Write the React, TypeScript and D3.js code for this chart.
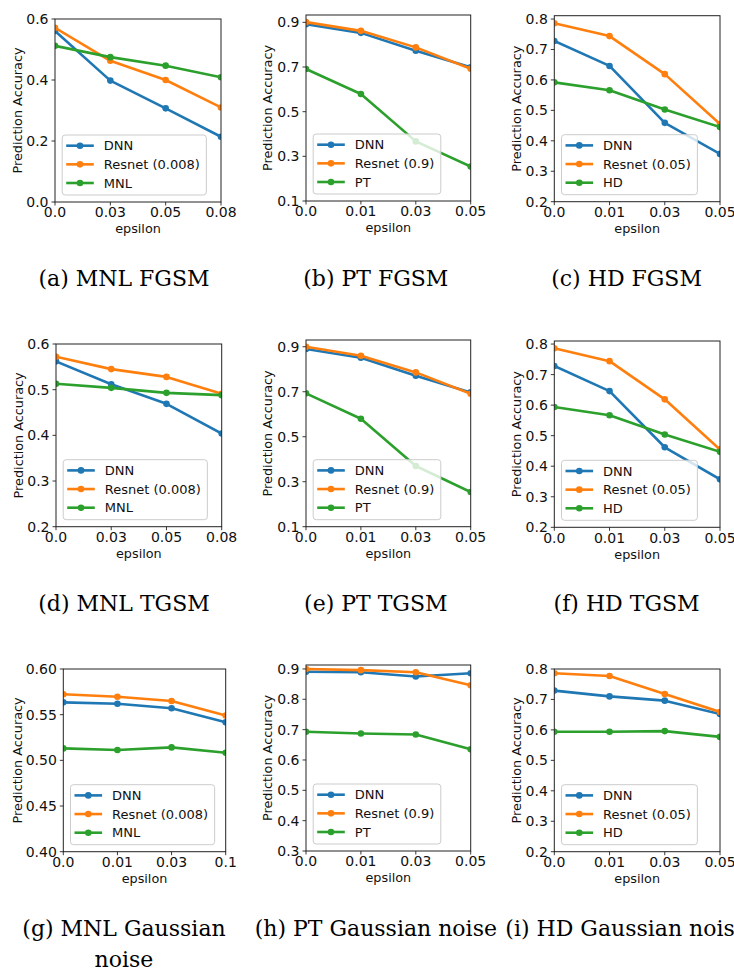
import React from "react";
import * as d3 from "d3";

const COLORS = ["#1f77b4", "#ff7f0e", "#2ca02c"];

// x tick labels (categorical epsilon values)
const epsMNL = ["0.0", "0.03", "0.05", "0.08"];
const epsPTHD = ["0.0", "0.01", "0.03", "0.05"];
const epsMNLNoise = ["0.0", "0.01", "0.03", "0.1"];

// y tick values
const ticksMNLFgsm = [0.0, 0.2, 0.4, 0.6];
const ticksMNLTgsm = [0.2, 0.3, 0.4, 0.5, 0.6];
const ticksPT = [0.1, 0.3, 0.5, 0.7, 0.9];
const ticksHD = [0.2, 0.3, 0.4, 0.5, 0.6, 0.7, 0.8];
const ticksMNLNoise = [0.4, 0.45, 0.5, 0.55, 0.6];
const ticksPTNoise = [0.3, 0.4, 0.5, 0.6, 0.7, 0.8, 0.9];

// legend labels
const legendMNL = ["DNN", "Resnet (0.008)", "MNL"];
const legendPT = ["DNN", "Resnet (0.9)", "PT"];
const legendHD = ["DNN", "Resnet (0.05)", "HD"];

// (a) MNL FGSM
const mnlFgsmDNN = [0.561, 0.398, 0.307, 0.214];
const mnlFgsmResnet = [0.571, 0.463, 0.4, 0.31];
const mnlFgsmMNL = [0.512, 0.475, 0.447, 0.409];
// (b) PT FGSM
const ptFgsmDNN = [0.892, 0.853, 0.773, 0.699];
const ptFgsmResnet = [0.901, 0.862, 0.788, 0.692];
const ptFgsmPT = [0.691, 0.579, 0.367, 0.254];
// (c) HD FGSM
const hdFgsmDNN = [0.728, 0.646, 0.459, 0.357];
const hdFgsmResnet = [0.786, 0.744, 0.619, 0.455];
const hdFgsmHD = [0.592, 0.566, 0.503, 0.445];
// (d) MNL TGSM
const mnlTgsmDNN = [0.562, 0.512, 0.469, 0.404];
const mnlTgsmResnet = [0.572, 0.545, 0.528, 0.491];
const mnlTgsmMNL = [0.513, 0.504, 0.493, 0.488];
// (e) PT TGSM
const ptTgsmDNN = [0.89, 0.851, 0.771, 0.697];
const ptTgsmResnet = [0.9, 0.86, 0.786, 0.691];
const ptTgsmPT = [0.693, 0.58, 0.37, 0.254];
// (f) HD TGSM
const hdTgsmDNN = [0.728, 0.646, 0.462, 0.357];
const hdTgsmResnet = [0.786, 0.744, 0.619, 0.455];
const hdTgsmHD = [0.594, 0.567, 0.504, 0.447];
// (g) MNL Gaussian noise
const mnlNoiseDNN = [0.5635, 0.562, 0.557, 0.5416];
const mnlNoiseResnet = [0.5723, 0.5697, 0.565, 0.549];
const mnlNoiseMNL = [0.5131, 0.5113, 0.5142, 0.5084];
// (h) PT Gaussian noise
const ptNoiseDNN = [0.891, 0.889, 0.875, 0.886];
const ptNoiseResnet = [0.9, 0.896, 0.889, 0.846];
const ptNoisePT = [0.693, 0.687, 0.684, 0.635];
// (i) HD Gaussian noise
const hdNoiseDNN = [0.729, 0.71, 0.696, 0.652];
const hdNoiseResnet = [0.786, 0.777, 0.718, 0.659];
const hdNoiseHD = [0.594, 0.594, 0.596, 0.577];

const captions = [
  ["(a) MNL FGSM"],
  ["(b) PT FGSM"],
  ["(c) HD FGSM"],
  ["(d) MNL TGSM"],
  ["(e) PT TGSM"],
  ["(f) HD TGSM"],
  ["(g) MNL Gaussian", "noise"],
  ["(h) PT Gaussian noise"],
  ["(i) HD Gaussian noise"],
];

type PanelSpec = {
  series: number[][];
  labels: string[];
  xLabels: string[];
  yTicks: number[];
  yFmt: string;
  yDomain: [number, number];
  left: number;
  right: number;
  top: number;
  bottom: number;
  ylabelX: number;
  capX: number;
  capY: number;
};

const panels: PanelSpec[] = [
  { series: [mnlFgsmDNN, mnlFgsmResnet, mnlFgsmMNL], labels: legendMNL, xLabels: epsMNL, yTicks: ticksMNLFgsm, yFmt: ".1f", yDomain: [0, 0.6], left: 55, right: 221, top: 19, bottom: 202, ylabelX: 22, capX: 124, capY: 286 },
  { series: [ptFgsmDNN, ptFgsmResnet, ptFgsmPT], labels: legendPT, xLabels: epsPTHD, yTicks: ticksPT, yFmt: ".1f", yDomain: [0.1, 0.933], left: 306, right: 470.7, top: 15, bottom: 201, ylabelX: 271.6, capX: 375.8, capY: 286 },
  { series: [hdFgsmDNN, hdFgsmResnet, hdFgsmHD], labels: legendHD, xLabels: epsPTHD, yTicks: ticksHD, yFmt: ".1f", yDomain: [0.2, 0.811], left: 554.3, right: 720, top: 15.7, bottom: 201.7, ylabelX: 521, capX: 626.6, capY: 286 },
  { series: [mnlTgsmDNN, mnlTgsmResnet, mnlTgsmMNL], labels: legendMNL, xLabels: epsMNL, yTicks: ticksMNLTgsm, yFmt: ".1f", yDomain: [0.2, 0.6], left: 56, right: 221.7, top: 344, bottom: 526.7, ylabelX: 23, capX: 124, capY: 611 },
  { series: [ptTgsmDNN, ptTgsmResnet, ptTgsmPT], labels: legendPT, xLabels: epsPTHD, yTicks: ticksPT, yFmt: ".1f", yDomain: [0.1, 0.93], left: 306, right: 470.7, top: 340, bottom: 526.7, ylabelX: 271.6, capX: 375.8, capY: 611 },
  { series: [hdTgsmDNN, hdTgsmResnet, hdTgsmHD], labels: legendHD, xLabels: epsPTHD, yTicks: ticksHD, yFmt: ".1f", yDomain: [0.2, 0.81], left: 554.3, right: 720, top: 341, bottom: 527.3, ylabelX: 521, capX: 626.6, capY: 611 },
  { series: [mnlNoiseDNN, mnlNoiseResnet, mnlNoiseMNL], labels: legendMNL, xLabels: epsMNLNoise, yTicks: ticksMNLNoise, yFmt: ".2f", yDomain: [0.4, 0.6], left: 63.3, right: 225.7, top: 669, bottom: 851.7, ylabelX: 22, capX: 124, capY: 936 },
  { series: [ptNoiseDNN, ptNoiseResnet, ptNoisePT], labels: legendPT, xLabels: epsPTHD, yTicks: ticksPTNoise, yFmt: ".1f", yDomain: [0.3, 0.913], left: 306, right: 470.7, top: 665, bottom: 851, ylabelX: 271.6, capX: 375.8, capY: 936 },
  { series: [hdNoiseDNN, hdNoiseResnet, hdNoiseHD], labels: legendHD, xLabels: epsPTHD, yTicks: ticksHD, yFmt: ".1f", yDomain: [0.2, 0.8], left: 554.3, right: 720, top: 669, bottom: 851.7, ylabelX: 521, capX: 626.6, capY: 936 },
];

const SANS = "DejaVu Sans, sans-serif";
const SERIF = "DejaVu Serif, serif";

let measureCtx: CanvasRenderingContext2D | null = null;
function measure(text: string, font: string): number {
  if (!measureCtx) measureCtx = document.createElement("canvas").getContext("2d");
  if (!measureCtx) return text.length * 7.5;
  measureCtx.font = font;
  return measureCtx.measureText(text).width;
}

function Panel({ p, idx }: { p: PanelSpec; idx: number }) {
  const x = d3.scaleLinear().domain([0, 3]).range([p.left, p.right]);
  const y = d3.scaleLinear().domain(p.yDomain).range([p.bottom, p.top]);
  const line = d3
    .line<number>()
    .x((_, i) => x(i))
    .y((d) => y(d));
  const fmt = d3.format(p.yFmt);
  const clipId = `clip-${idx}`;

  const legFont = "13px DejaVu Sans";
  const maxW = Math.max(...p.labels.map((l) => measure(l, legFont)));
  const legX = p.left + 7.2;
  const legH = 60;
  const legY = p.bottom - 7 - legH;
  const legW = 4 + 27.6 + 10 + maxW + 6.5;

  return (
    <g>
      <defs>
        <clipPath id={clipId}>
          <rect x={p.left} y={p.top} width={p.right - p.left} height={p.bottom - p.top} />
        </clipPath>
      </defs>
      {/* series */}
      <g clipPath={`url(#${clipId})`}>
        {p.series.map((s, si) => (
          <g key={si}>
            <path d={line(s) || ""} fill="none" stroke={COLORS[si]} strokeWidth={2.6} strokeLinejoin="round" />
            {s.map((v, i) => (
              <circle key={i} cx={x(i)} cy={y(v)} r={3.3} fill={COLORS[si]} />
            ))}
          </g>
        ))}
      </g>
      {/* frame */}
      <rect x={p.left} y={p.top} width={p.right - p.left} height={p.bottom - p.top} fill="none" stroke="#222" strokeWidth={1} />
      {/* y ticks */}
      {p.yTicks.map((t) => (
        <g key={t}>
          <line x1={p.left - 3.5} x2={p.left} y1={y(t)} y2={y(t)} stroke="#222" strokeWidth={0.9} />
          <text x={p.left - 6.5} y={y(t) + 5} textAnchor="end" fontFamily={SANS} fontSize={14} fill="#111">
            {fmt(t)}
          </text>
        </g>
      ))}
      {/* x ticks */}
      {p.xLabels.map((lab, i) => (
        <g key={i}>
          <line x1={x(i)} x2={x(i)} y1={p.bottom} y2={p.bottom + 3.5} stroke="#222" strokeWidth={0.9} />
          <text x={x(i)} y={p.bottom + 15.3} textAnchor="middle" fontFamily={SANS} fontSize={14} fill="#111">
            {lab}
          </text>
        </g>
      ))}
      {/* axis labels */}
      <text x={(p.left + p.right) / 2} y={p.bottom + 31.3} textAnchor="middle" fontFamily={SANS} fontSize={12.8} fill="#111">
        epsilon
      </text>
      <text
        transform={`translate(${p.ylabelX},${(p.top + p.bottom) / 2}) rotate(-90)`}
        textAnchor="middle"
        fontFamily={SANS}
        fontSize={12.8}
        fill="#111"
      >
        Prediction Accuracy
      </text>
      {/* legend */}
      <rect x={legX} y={legY} width={legW} height={legH} rx={3} ry={3} fill="white" fillOpacity={0.8} stroke="#cccccc" strokeWidth={1} />
      {p.labels.map((lab, li) => {
        const cy = legY + 10.7 + li * 18.65;
        const hx0 = legX + 4;
        const hx1 = hx0 + 27.6;
        return (
          <g key={lab}>
            <line x1={hx0} x2={hx1} y1={cy} y2={cy} stroke={COLORS[li]} strokeWidth={2.6} />
            <circle cx={(hx0 + hx1) / 2} cy={cy} r={3.3} fill={COLORS[li]} />
            <text x={hx1 + 10} y={cy + 4.7} fontFamily={SANS} fontSize={13} fill="#111">
              {lab}
            </text>
          </g>
        );
      })}
      {/* caption */}
      {captions[idx].map((c, ci) => (
        <text key={ci} x={p.capX} y={p.capY + ci * 31} textAnchor="middle" fontFamily={SERIF} fontSize={22} fill="#000">
          {c}
        </text>
      ))}
    </g>
  );
}

export default function App() {
  return (
    <svg
      width={734}
      height={973}
      viewBox="0 0 734 973"
      style={{ position: "absolute", left: 0, top: 0, background: "#fff" }}
    >
      <rect x={0} y={0} width={734} height={973} fill="#fff" />
      {panels.map((p, i) => (
        <Panel key={i} p={p} idx={i} />
      ))}
    </svg>
  );
}
